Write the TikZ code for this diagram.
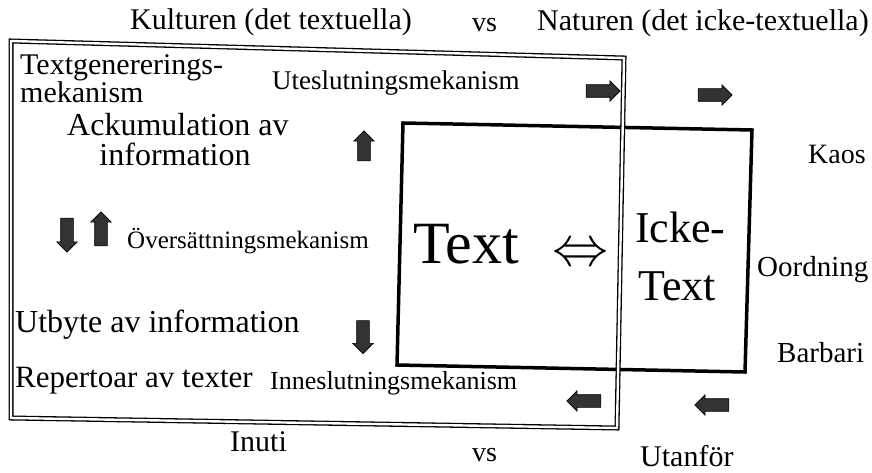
\documentclass[tikz,border=0pt]{standalone}
\usepackage{fontspec}
\setmainfont{Liberation Serif}
\usetikzlibrary{shapes.arrows}
\begin{document}
\begin{tikzpicture}[x=1pt,y=-1pt,
  lbl/.style={inner sep=0pt, anchor=base west},
  clbl/.style={inner sep=0pt, anchor=base},
  fs/.style={font=\fontsize{#1}{#1}\selectfont},
  blk/.style={single arrow, fill=black!80, draw=black, line width=0.6pt,
    inner sep=0pt, single arrow head extend=4pt, single arrow head indent=0pt,
    minimum height=#1},
  blk/.default=34pt,
  frame/.style={line width=1.3pt, double=white, double distance=2.4pt, line join=miter},
  boxline/.style={line width=3.5pt, line join=miter}]
\path[use as bounding box, fill=white] (0,0) rectangle (872,473);

% inner box (Text / Icke-Text)
\coordinate (b1) at (403,123);
\coordinate (b2) at (752,130);
\coordinate (b3) at (745,372);
\coordinate (b4) at (397,365);
\draw[boxline] (b1) -- (b2) -- (b3) -- (b4) -- cycle;

% outer double frame (culture)
\coordinate (f1) at (11,41);
\coordinate (f2) at (624,58);
\coordinate (f3) at (617,428);
\coordinate (f4) at (11,418);
\draw[frame] (f1) -- (f2) -- (f3) -- (f4) -- cycle;

% top labels
\node[lbl, fs=30] (kult) at (130,30) {Kulturen (det textuella)};
\node[lbl, fs=28] (vs1) at (472,32) {vs};
\node[lbl, fs=30] (nat) at (537,31) {Naturen (det icke-textuella)};

% inside frame labels
\node[lbl, fs=30] (tg1) at (20,75) {Textgenererings-};
\node[lbl, fs=30] (tg2) at (20,103) {mekanism};
\node[lbl, fs=27] (ute) at (272,90) {Uteslutningsmekanism};
\node[lbl, fs=32] (ack1) at (67,136) {Ackumulation av};
\node[clbl, fs=32] (ack2) at (175,166) {information};
\node[lbl, fs=25] (ovs) at (127,248) {Översättningsmekanism};
\node[lbl, fs=32] (utb) at (15,332) {Utbyte av information};
\node[lbl, fs=31] (rep) at (15,387) {Repertoar av texter};
\node[lbl, fs=26] (inn) at (270,389) {Inneslutningsmekanism};

% central texts
\node[lbl, fs=60] (txt) at (413,263) {Text};
\node[inner sep=0pt] (iff) at (580,255) {\resizebox{56pt}{!}{$\Leftrightarrow$}};
\node[lbl, fs=44] (icke1) at (635,242) {Icke-};
\node[lbl, fs=44] (icke2) at (638,300) {Text};

% right labels
\node[lbl, fs=28] (kaos) at (808,164) {Kaos};
\node[lbl, fs=29] (oord) at (757,276) {Oordning};
\node[lbl, fs=29] (barb) at (777,362) {Barbari};

% bottom labels
\node[lbl, fs=30] (inuti) at (230,451) {Inuti};
\node[lbl, fs=28] (vs2) at (472,461) {vs};
\node[lbl, fs=30] (utan) at (640,466) {Utanför};

% block arrows
\node[blk] (r1) at (600,91) {\rule{0pt}{12pt}};
\node[blk] (r2) at (712,95) {\rule{0pt}{12pt}};
\node[blk, shape border rotate=180] (l1) at (587,401) {\rule{0pt}{12pt}};
\node[blk, shape border rotate=180] (l2) at (715,405) {\rule{0pt}{12pt}};
\node[blk=30pt, shape border rotate=90] (u1) at (364,149) {\rule{12pt}{0pt}};
\node[blk=34pt, shape border rotate=270] (d1) at (67,232) {\rule{12pt}{0pt}};
\node[blk=34pt, shape border rotate=90] (u2) at (101,232) {\rule{12pt}{0pt}};
\node[blk=33pt, shape border rotate=270] (d2) at (363,334) {\rule{12pt}{0pt}};
\end{tikzpicture}
\end{document}
